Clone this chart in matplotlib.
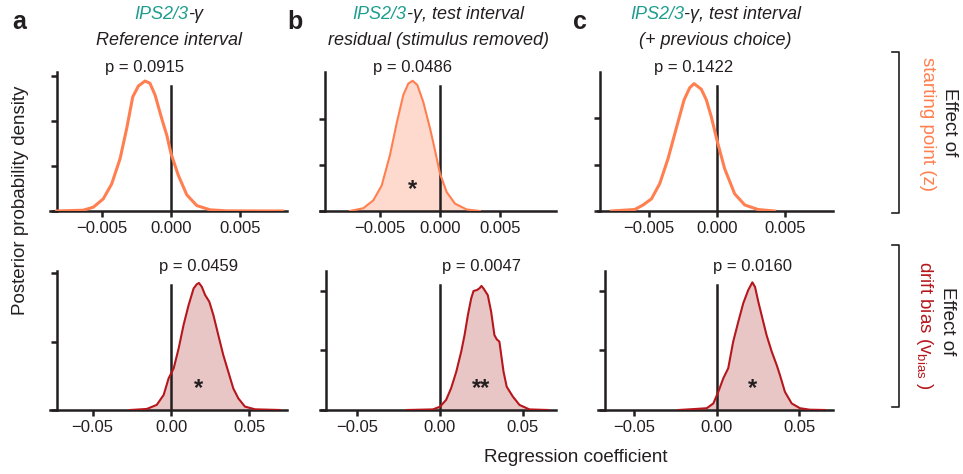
import matplotlib

matplotlib.use("Agg")
import matplotlib.pyplot as plt
from matplotlib.lines import Line2D
from matplotlib.offsetbox import AnnotationBbox, HPacker, TextArea

W, H = 963, 474

INK = "#231f20"
TEAL = "#1f9e8e"
ORANGE = "#ff7f50"
ORANGE_FILL = "#fddacd"
RED = "#b5171c"
RED_FILL = "#e9c6c6"

plt.rcParams.update({
    "font.family": ["Liberation Sans", "DejaVu Sans"],
    "font.size": 12,
    "text.color": INK,
    "axes.edgecolor": INK,
    "xtick.color": INK,
    "ytick.color": INK,
    "mathtext.fontset": "custom",
    "mathtext.rm": "Liberation Sans",
})

# ---- data ---------------------------------------------------------------
# top row: effect on starting point (z), posterior densities
z_ref_x = [-8.3e-3, -6.37e-3, -5.64e-3, -4.92e-3, -4.31e-3, -3.70e-3, -3.22e-3,
           -2.78e-3, -2.37e-3, -1.89e-3, -1.53e-3, -1.16e-3, -0.68e-3, -0.31e-3,
           0.0, 0.53e-3, 1.14e-3, 1.87e-3, 2.83e-3, 4.04e-3, 8.1e-3]
z_ref_y = [0, 1.8, 8.5, 27, 60, 116, 183, 253, 277, 288, 283, 257, 205, 168,
           127, 79, 36, 12, 2.6, 0.3, 0]

z_res_x = [-7.5e-3, -6.39e-3, -5.56e-3, -4.86e-3, -4.17e-3, -3.61e-3, -3.06e-3,
           -2.64e-3, -2.28e-3, -1.89e-3, -1.39e-3, -0.83e-3, -0.42e-3, 0.0,
           0.56e-3, 1.25e-3, 2.22e-3, 3.33e-3]
z_res_y = [0, 6, 23, 55, 121, 190, 251, 276, 282, 273, 236, 179, 132, 81, 41,
           16, 3.3, 0]

z_prev_x = [-7.73e-3, -6.02e-3, -5.41e-3, -4.80e-3, -4.19e-3, -3.58e-3,
            -2.98e-3, -2.41e-3, -2.00e-3, -1.68e-3, -1.15e-3, -0.78e-3,
            -0.42e-3, 0.0, 0.56e-3, 1.29e-3, 2.03e-3, 3.0e-3, 4.2e-3]
z_prev_y = [0, 3.2, 13, 26, 59, 113, 178, 239, 265, 274, 262, 239, 203, 152,
            91, 37, 13, 3.2, 0]

# bottom row: effect on drift bias (v_bias)
v_ref_x = [-0.0261, -0.0155, -0.0091, -0.0047, -0.0015, 0.0017, 0.0049, 0.0080,
           0.0112, 0.0144, 0.0164, 0.0178, 0.0196, 0.0217, 0.0244, 0.0270,
           0.0301, 0.0333, 0.0365, 0.0397, 0.0429, 0.0471, 0.0535, 0.0694]
v_ref_y = [0, 0.3, 1.5, 4.4, 9.3, 12.2, 18.1, 24.9, 30.7, 35.6, 36.8, 37.2,
           36.1, 33.7, 31.7, 27.8, 22.0, 16.1, 11.2, 6.3, 3.4, 1.0, 0.2, 0]

v_res_x = [-0.0201, -0.0043, 0.0, 0.0037, 0.0067, 0.0098, 0.0128, 0.0148,
           0.0168, 0.0188, 0.0202, 0.0222, 0.0238, 0.0250, 0.0264, 0.0288,
           0.0308, 0.0328, 0.0342, 0.0358, 0.0369, 0.0383, 0.0402, 0.0439,
           0.0479, 0.0539, 0.0652]
v_res_y = [0, 0.2, 1.1, 3.4, 7.3, 12.8, 19.6, 25.1, 31.8, 37.4, 39.9, 40.2,
           40.8, 41.6, 40.6, 38.5, 33.0, 25.1, 23.7, 22.9, 18.4, 12.8, 7.8,
           4.5, 1.7, 0.2, 0]

v_prev_x = [-0.0232, -0.0141, -0.0060, -0.0020, 0.0010, 0.0040, 0.0070, 0.0100,
            0.0131, 0.0161, 0.0191, 0.0216, 0.0232, 0.0252, 0.0272, 0.0302,
            0.0333, 0.0363, 0.0383, 0.0413, 0.0454, 0.0504, 0.0564, 0.0655]
v_prev_y = [0, 0.3, 0.6, 2.2, 6.1, 10.6, 14.0, 22.9, 29.6, 35.8, 40.2, 42.8,
            41.3, 36.3, 31.8, 25.1, 19.6, 15.1, 11.7, 6.1, 2.2, 0.6, 0.1, 0]

p_z = ["0.0915", "0.0486", "0.1422"]
p_v = ["0.0459", "0.0047", "0.0160"]
stars_z = ["", "*", ""]
stars_v = ["*", "**", "*"]

z_ticks = [-0.005, 0.0, 0.005]
z_ticklabels = ["\u22120.005", "0.000", "0.005"]
v_ticks = [-0.05, 0.0, 0.05]
v_ticklabels = ["\u22120.05", "0.00", "0.05"]

letters = ["a", "b", "c"]
title_rest = ["-\u03b3", "-\u03b3, test interval", "-\u03b3, test interval"]
title_line2 = ["Reference interval", "residual (stimulus removed)",
               "(+ previous choice)"]

# ---- layout (pixels of the 963x474 canvas) ------------------------------
COLS = [(50, 287), (320, 556), (598, 833)]
ROWS = [(72, 211), (271, 410)]
TOP_XLIM = [(-8.79e-3, 8.42e-3), (-10.0e-3, 9.67e-3), (-8.71e-3, 8.49e-3)]
TOP_SPINE = [-8.28e-3, -9.58e-3, -8.54e-3]
TOP_YLIM = [308, 301, 299]
TOP_YT = [[0, 100, 200, 300], [0, 100, 200], [0, 100, 200]]
BOT_XLIM = [(-0.0771, 0.0739), (-0.0723, 0.0699), (-0.0718, 0.0704)]
BOT_SPINE = [-0.0726, -0.0687, -0.0676]
BOT_YLIM = [40.7, 46.6, 46.6]


def fx(px):
    return px / W


def fy(py):
    return 1 - py / H


fig = plt.figure(figsize=(W / 100, H / 100), dpi=100)


def panel(col, row, xs, ys, filled, color, fill, xlim, spine, ylim, yt,
          ticks, ticklabels, p, star):
    x0, x1 = COLS[col]
    y0, y1 = ROWS[row]
    ax = fig.add_axes([fx(x0), fy(y1), fx(x1 - x0), (y1 - y0) / H])
    if filled:
        ax.fill_between(xs, 0, ys, color=fill, linewidth=0, zorder=1)
    ax.axvline(0, ymax=0.9, color=INK, linewidth=1.8, zorder=2)
    ax.plot(xs, ys, color=color, linewidth=2.2 if (row == 0 and not filled)
            else 1.5, zorder=3, solid_joinstyle="round")
    ax.set_xlim(*xlim)
    ax.set_ylim(0, ylim)
    ax.spines[["top", "right"]].set_visible(False)
    ax.spines["left"].set_position(("data", spine))
    for s in ("left", "bottom"):
        ax.spines[s].set_linewidth(1.8)
    ax.set_yticks(yt)
    ax.set_yticklabels([])
    ax.set_xticks(ticks)
    ax.set_xticklabels(ticklabels, fontsize=12)
    ax.tick_params(length=4.5, width=1.8, pad=3)
    ax.patch.set_visible(False)

    peak = xs[ys.index(max(ys))]
    ax.text(peak, 1.029, f"p = {p}", transform=ax.get_xaxis_transform(),
            ha="center", va="center", fontsize=12)
    if star:
        ax.text(peak, 0.11, star, transform=ax.get_xaxis_transform(),
                ha="center", va="baseline", fontsize=17, fontweight="bold")
    return ax


top = [(z_ref_x, z_ref_y, False), (z_res_x, z_res_y, True),
       (z_prev_x, z_prev_y, False)]
bot = [(v_ref_x, v_ref_y), (v_res_x, v_res_y), (v_prev_x, v_prev_y)]

for i in range(3):
    xs, ys, filled = top[i]
    ax = panel(i, 0, xs, ys, filled, ORANGE, ORANGE_FILL, TOP_XLIM[i],
               TOP_SPINE[i], TOP_YLIM[i], TOP_YT[i], z_ticks, z_ticklabels,
               p_z[i], stars_z[i])
    # two-colour first title line
    tp = dict(fontsize=13, fontstyle="italic")
    line1 = HPacker(children=[TextArea("IPS2/3", textprops=dict(color=TEAL, **tp)),
                              TextArea(title_rest[i], textprops=dict(color=INK, **tp))],
                    pad=0, sep=0, align="baseline")
    ax.add_artist(AnnotationBbox(line1, (0.5, 1.417), xycoords="axes fraction",
                                 frameon=False, box_alignment=(0.5, 0.5),
                                 annotation_clip=False))
    ax.text(0.5, 1.230, title_line2[i], transform=ax.transAxes, ha="center",
            va="center", fontsize=13, fontstyle="italic")

    xs, ys = bot[i]
    panel(i, 1, xs, ys, True, RED, RED_FILL, BOT_XLIM[i], BOT_SPINE[i],
          BOT_YLIM[i], [0, 20, 40], v_ticks, v_ticklabels, p_v[i], stars_v[i])

# panel letters
for letter, px in zip(letters, [19.5, 294.5, 580]):
    fig.text(fx(px), fy(29), letter, ha="center", va="baseline",
             fontsize=18, fontweight="bold")

fig.text(fx(21), fy(200), "Posterior probability density", rotation=90,
         ha="center", va="center", fontsize=13.5)
fig.text(fx(576), fy(458), "Regression coefficient", ha="center",
         va="center", fontsize=13.5)

# right-hand brackets and row labels
for ya, yb in [(52, 213), (245, 407)]:
    fig.add_artist(Line2D([fx(892), fx(899), fx(899), fx(892)],
                          [fy(ya), fy(ya), fy(yb), fy(yb)],
                          transform=fig.transFigure, color=INK, linewidth=1.2))

fig.text(fx(949.5), fy(122), "Effect of", rotation=270, ha="center",
         va="center", fontsize=13.5)
fig.text(fx(927), fy(124), "starting point (z)", rotation=270, ha="center",
         va="center", fontsize=13.5, color=ORANGE)
fig.text(fx(947), fy(321), "Effect of", rotation=270, ha="center",
         va="center", fontsize=13.5)
fig.text(fx(924), fy(325), r"drift bias (v$_{\mathregular{bias}}$ )",
         rotation=270, ha="center", va="center", fontsize=13.5, color=RED)

fig.savefig("out.png", dpi=100)
